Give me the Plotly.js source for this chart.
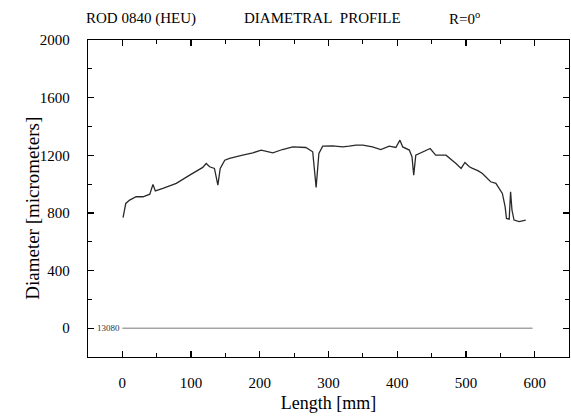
<!DOCTYPE html>
<html>
<head>
<meta charset="utf-8">
<script src="https://cdn.plot.ly/plotly-3.0.1.min.js"></script>
<style>html,body{margin:0;padding:0;background:#fff;}#chart{width:571px;height:419px;}</style>
</head>
<body>
<div id="chart"></div>
<script>
var lengthMm = [1, 5, 10.6, 20, 30, 40, 44.5, 48, 59, 78.5, 98, 117, 122, 127, 134, 139, 142.4, 149, 156, 161, 168, 175, 190, 202, 219, 233, 248, 267, 277, 282, 286, 291.6, 306, 320.6, 330, 340, 350, 364, 376, 388.5, 398, 404, 408, 417.6, 421.5, 424, 427, 437, 448, 456, 471, 485.5, 493, 498.5, 505, 509.6, 518, 524, 536, 543.6, 553, 557, 559, 563, 565, 567, 570, 577.5, 587];
var diameterUm = [767, 866, 889, 912, 912, 930, 998, 953, 970, 1005, 1062, 1116, 1143, 1120, 1109, 993, 1109, 1166, 1178, 1185, 1194, 1201, 1217, 1236, 1217, 1240, 1258, 1254, 1224, 977, 1213, 1263, 1265, 1258, 1263, 1270, 1270, 1258, 1240, 1263, 1254, 1305, 1258, 1236, 1190, 1062, 1201, 1224, 1247, 1201, 1201, 1143, 1109, 1150, 1120, 1109, 1092, 1074, 1016, 1005, 935, 843, 762, 757, 947, 820, 750, 739, 750];
var baseX = [0, 597];
var baseY = [0, 0];
var baseLabel = "13080";
var titleParts = ["ROD 0840 (HEU)", "DIAMETRAL&nbsp;&nbsp;PROFILE", "R=0<sup>o</sup>"];

var serif = "Liberation Serif";
var traces = [
  {x: lengthMm, y: diameterUm, type: "scatter", mode: "lines", line: {color: "#2a2a2a", width: 1.3}, hoverinfo: "x+y"},
  {x: baseX, y: baseY, type: "scatter", mode: "lines", line: {color: "#777", width: 1}, hoverinfo: "x+y"}
];
function axisCommon() {
  return {
    showline: true, linecolor: "#000", linewidth: 1.3, mirror: "allticks",
    ticks: "inside", ticklen: 6, tickwidth: 1.3, tickcolor: "#000",
    showgrid: false, zeroline: false,
    tickfont: {family: serif, size: 15, color: "#000"}
  };
}
var layout = {
  width: 571, height: 419,
  font: {family: serif, color: "#000"},
  margin: {l: 88, r: 2, t: 40, b: 62},
  paper_bgcolor: "#fff", plot_bgcolor: "#fff",
  showlegend: false,
  xaxis: Object.assign(axisCommon(), {
    range: [-50, 650], tickvals: [0, 100, 200, 300, 400, 500, 600],
    minor: {dtick: 50, tick0: 0, ticks: "inside", ticklen: 4, tickwidth: 1, tickcolor: "#000"},
    ticklabelstandoff: 12,
    title: {text: "Length [mm]", font: {family: serif, size: 18, color: "#000"}, standoff: 6}
  }),
  yaxis: Object.assign(axisCommon(), {
    range: [-200, 2000], tickvals: [0, 400, 800, 1200, 1600, 2000],
    minor: {dtick: 200, tick0: 0, ticks: "inside", ticklen: 4, tickwidth: 1, tickcolor: "#000"},
    ticklabelstandoff: 14
  }),
  annotations: [
    {text: titleParts[0], xref: "paper", yref: "paper", x: 0.111, y: 1.069, xanchor: "center", yanchor: "middle", showarrow: false, font: {family: serif, size: 15, color: "#000"}},
    {text: titleParts[1], xref: "paper", yref: "paper", x: 0.487, y: 1.069, xanchor: "center", yanchor: "middle", showarrow: false, font: {family: serif, size: 15, color: "#000"}},
    {text: titleParts[2], xref: "paper", yref: "paper", x: 0.782, y: 1.069, xanchor: "center", yanchor: "middle", showarrow: false, font: {family: serif, size: 15, color: "#000"}},
    {text: "Diameter [micrometers]", xref: "paper", yref: "paper", x: -0.117, y: 0.47, xanchor: "center", yanchor: "middle", textangle: -90, showarrow: false, font: {family: serif, size: 19, color: "#000"}},
    {text: baseLabel, xref: "x", yref: "y", x: 0, y: 0, xanchor: "right", yanchor: "middle", showarrow: false, font: {family: serif, size: 9, color: "#333"}}
  ]
};
Plotly.newPlot("chart", traces, layout, {staticPlot: true, displayModeBar: false});
</script>
</body>
</html>
